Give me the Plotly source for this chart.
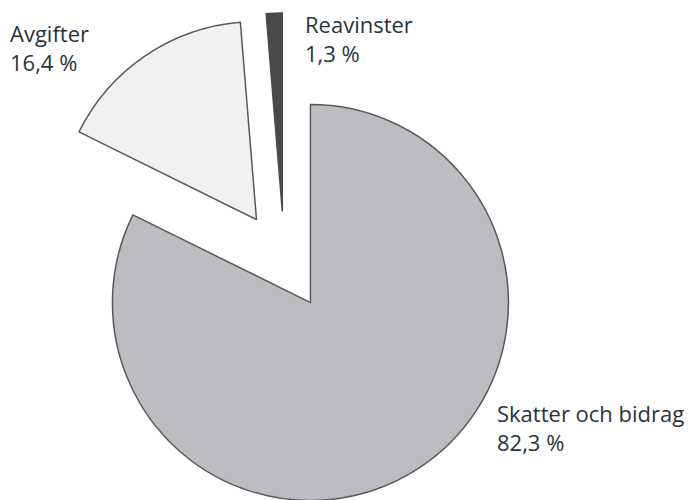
"""Pie chart: fördelning av inkomster."""

import plotly.graph_objects as go

labels = ["Skatter och bidrag", "Avgifter", "Reavinster"]
values = [82.3, 16.4, 1.3]
colors = ["#bcbdc1", "#f0f1f3", "#4a4a4d"]
line_colors = ["#58595b", "#58595b", "#4a4a4d"]

# figure is a bit taller than the 500px window so the pie can run to the bottom edge
W, H = 688, 510

# label anchors in pixels (left, top)
label_pos = {
    "Skatter och bidrag": (495, 396),
    "Avgifter": (8, 16),
    "Reavinster": (303, 7),
}


def fmt(v):
    return f"{v:.1f}".replace(".", ",") + " %"


fig = go.Figure(
    go.Pie(
        labels=labels,
        values=values,
        sort=False,
        direction="clockwise",
        rotation=0,
        pull=[0.25] * len(values),
        marker=dict(colors=colors, line=dict(color=line_colors, width=1.5)),
        textinfo="none",
        hoverinfo="label+percent",
        domain=dict(x=[0.0535, 0.773], y=[0.0039, 0.9745]),
    )
)

for lab, val in zip(labels, values):
    px, py = label_pos[lab]
    fig.add_annotation(
        x=px / W,
        y=1 - py / H,
        xref="paper",
        yref="paper",
        xanchor="left",
        yanchor="top",
        align="left",
        showarrow=False,
        text=f"{lab}<br>{fmt(val)}",
        font=dict(family="'Open Sans', Lato, sans-serif", size=22, color="#28343c"),
    )

fig.update_layout(
    width=W,
    height=H,
    margin=dict(t=0, b=0, l=0, r=0),
    showlegend=False,
    paper_bgcolor="white",
    plot_bgcolor="white",
)

# drop the default 8px page margin so the figure sits at the window corner
fig.write_html(
    "out.html",
    config={"displayModeBar": False},
    post_script="document.body.style.margin='0';document.body.style.overflow='hidden';",
)
